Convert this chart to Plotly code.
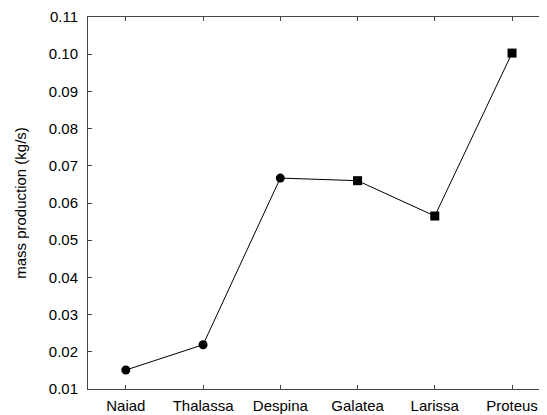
import plotly.graph_objects as go

moons = ["Naiad", "Thalassa", "Despina", "Galatea", "Larissa", "Proteus"]
mass_production = [0.0151, 0.0219, 0.0667, 0.0660, 0.0565, 0.1003]
marker_symbols = ["circle", "circle", "circle", "square", "square", "square"]
y_ticks = [0.01, 0.02, 0.03, 0.04, 0.05, 0.06, 0.07, 0.08, 0.09, 0.10, 0.11]
y_tick_labels = ["0.01", "0.02", "0.03", "0.04", "0.05", "0.06", "0.07", "0.08", "0.09", "0.10", "0.11"]

FONT = "Liberation Sans, Arial, sans-serif"

fig = go.Figure()
fig.add_trace(go.Scatter(
    x=list(range(len(moons))),
    y=mass_production,
    mode="lines+markers",
    line=dict(color="black", width=1),
    marker=dict(symbol=marker_symbols, size=9, color="black"),
    showlegend=False,
))

axis_common = dict(
    showline=True, linecolor="#444444", linewidth=1, mirror="ticks",
    ticks="inside", ticklen=4, tickcolor="#444444", showgrid=False, zeroline=False,
    tickfont=dict(family=FONT, size=15, color="black"),
)

fig.update_xaxes(
    range=[-0.49, 5.44],
    tickmode="array", tickvals=list(range(len(moons))), ticktext=moons,
    ticklabelstandoff=3,
    **axis_common,
)
fig.update_yaxes(
    range=[0.01, 0.11],
    tickmode="array", tickvals=y_ticks, ticktext=y_tick_labels,
    ticklabelstandoff=6,
    title=dict(text="mass production (kg/s)", font=dict(family=FONT, size=15, color="black"), standoff=18),
    **axis_common,
)

# page body has an 8px margin, so the figure is sized to fit the 547x415 window
fig.update_layout(
    width=539, height=407,
    margin=dict(l=80, r=1, t=9, b=26, autoexpand=False),
    plot_bgcolor="white", paper_bgcolor="white",
)

fig.write_html("out.html")
